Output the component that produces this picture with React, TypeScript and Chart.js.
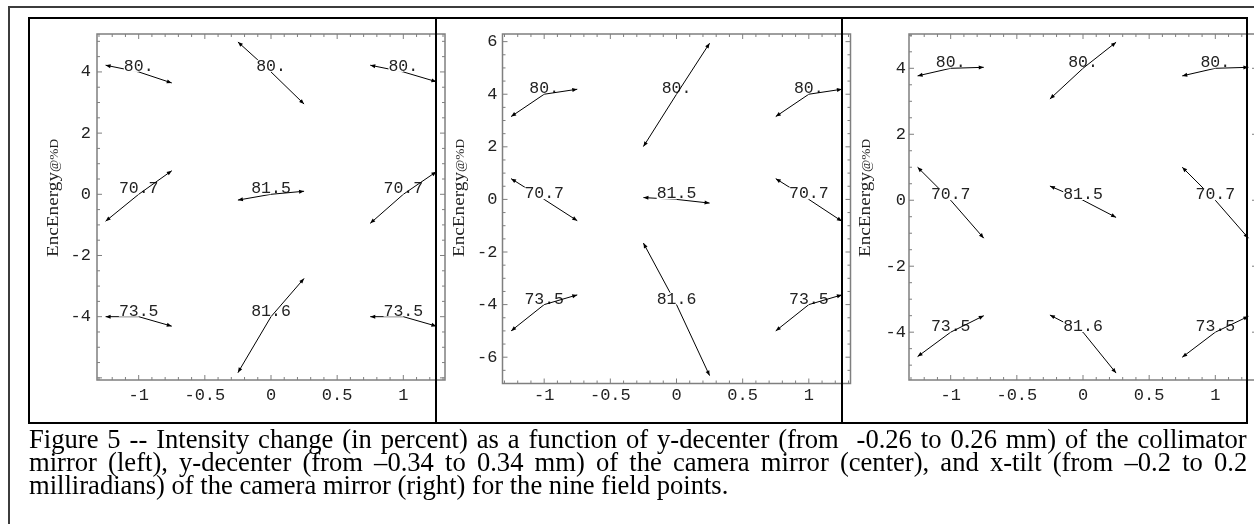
import React, { useEffect, useLayoutEffect, useRef } from 'react';
import { Chart, registerables } from 'chart.js';

Chart.register(...registerables);

// ---------------- data ----------------
// nine field points (grid position) and their labels (nominal encircled energy)
const FIELD_X = [-1, 0, 1, -1, 0, 1, -1, 0, 1];
const FIELD_Y = [4, 4, 4, 0, 0, 0, -4, -4, -4];
const FIELD_LABELS = ['80.', '80.', '80.', '70.7', '81.5', '70.7', '73.5', '81.6', '73.5'];
const ARROW_HALF_SPAN = 0.25;

// arrow end values (left end = negative perturbation, right end = positive perturbation)
const LEFT_END_COLLIMATOR_YDEC = [4.22, 4.98, 4.22, -0.88, -0.19, -0.95, -4.0, -5.83, -4.0];
const RIGHT_END_COLLIMATOR_YDEC = [3.64, 2.95, 3.68, 0.77, 0.1, 0.74, -4.31, -2.75, -4.31];
const LEFT_END_CAMERA_YDEC = [3.15, 2.01, 3.15, 0.79, 0.07, 0.79, -5.0, -1.66, -5.0];
const RIGHT_END_CAMERA_YDEC = [4.19, 5.94, 4.19, -0.81, -0.14, -0.83, -3.63, -6.7, -3.63];
const LEFT_END_CAMERA_XTILT = [3.77, 3.07, 3.77, 1.0, 0.43, 1.0, -4.74, -3.48, -4.76];
const RIGHT_END_CAMERA_XTILT = [4.03, 4.79, 4.03, -1.15, -0.52, -1.15, -3.5, -5.24, -3.52];

const X_RANGE = [-1.315, 1.315];
const X_TICKS = [-1, -0.5, 0, 0.5, 1];
const X_TICK_LABELS = ['-1', '-0.5', '0', '0.5', '1'];

const Y_RANGE_1 = [-6.07, 5.24];
const Y_RANGE_2 = [-7.0, 6.29];
const Y_RANGE_3 = [-5.45, 5.04];
const Y_TICKS_1 = [-4, -2, 0, 2, 4];
const Y_TICK_LABELS_1 = ['-4', '-2', '0', '2', '4'];
const Y_TICKS_2 = [-6, -4, -2, 0, 2, 4, 6];
const Y_TICK_LABELS_2 = ['-6', '-4', '-2', '0', '2', '4', '6'];
const Y_TICKS_3 = [-4, -2, 0, 2, 4];
const Y_TICK_LABELS_3 = ['-4', '-2', '0', '2', '4'];

const Y_TITLE_MAIN = 'EncEnergy';
const Y_TITLE_SUFFIX = '@%D';

const CAPTION_LINES = [
  'Figure 5 -- Intensity change (in percent) as a function of y-decenter (from\u00a0 -0.26 to 0.26 mm) of the collimator',
  'mirror (left), y-decenter (from \u20130.34 to 0.34 mm) of the camera mirror (center), and x-tilt (from \u20130.2 to 0.2',
  'milliradians) of the camera mirror (right) for the nine field points.',
];

// ---------------- panels ----------------
type PanelData = {
  leftEnd: number[];
  rightEnd: number[];
  yRange: number[];
  yTicks: number[];
  yTickLabels: string[];
};

const PANELS_DATA: PanelData[] = [
  { leftEnd: LEFT_END_COLLIMATOR_YDEC, rightEnd: RIGHT_END_COLLIMATOR_YDEC, yRange: Y_RANGE_1, yTicks: Y_TICKS_1, yTickLabels: Y_TICK_LABELS_1 },
  { leftEnd: LEFT_END_CAMERA_YDEC, rightEnd: RIGHT_END_CAMERA_YDEC, yRange: Y_RANGE_2, yTicks: Y_TICKS_2, yTickLabels: Y_TICK_LABELS_2 },
  { leftEnd: LEFT_END_CAMERA_XTILT, rightEnd: RIGHT_END_CAMERA_XTILT, yRange: Y_RANGE_3, yTicks: Y_TICKS_3, yTickLabels: Y_TICK_LABELS_3 },
];

type PanelLayout = { left: number; right: number; top: number; bottom: number; xTickPad: number; yTickPad: number };

const PANEL_LAYOUT: PanelLayout[] = [
  { left: 97, right: 445, top: 34, bottom: 380, xTickPad: 5, yTickPad: 6 },
  { left: 502.5, right: 850.5, top: 34, bottom: 383.5, xTickPad: 1.5, yTickPad: 5 },
  { left: 909, right: 1257, top: 34, bottom: 380, xTickPad: 5, yTickPad: 3 },
];

const CANVAS_H = 430;
const MONO = '"Liberation Mono", "Courier New", monospace';
const SERIF = '"Liberation Serif", "Times New Roman", serif';
const TEXT_COLOR = '#222222';
const FRAME_COLOR = '#7f7f7f';
const TICK_FONT_SIZE = 17;
const LABEL_FONT_SIZE = 16.5;
const CAPTION_WIDTH = 1218;

function steps(min: number, max: number, step: number): number[] {
  const out: number[] = [];
  for (let k = Math.ceil(min / step - 1e-9); k <= Math.floor(max / step + 1e-9); k++) out.push(+(k * step).toFixed(6));
  return out;
}
function isMultiple(v: number, step: number) {
  const r = v / step;
  return Math.abs(r - Math.round(r)) < 1e-6;
}

function drawArrowHead(ctx: CanvasRenderingContext2D, fx: number, fy: number, tx: number, ty: number) {
  const dx = tx - fx;
  const dy = ty - fy;
  const len = Math.hypot(dx, dy);
  if (len < 1e-6) return;
  const ux = dx / len;
  const uy = dy / len;
  const L = 5;
  const W = 2;
  ctx.beginPath();
  ctx.moveTo(tx, ty);
  ctx.lineTo(tx - ux * L - uy * W, ty - uy * L + ux * W);
  ctx.lineTo(tx - ux * L + uy * W, ty - uy * L - ux * W);
  ctx.closePath();
  ctx.fill();
}

function PanelChart({ data, layout }: { data: PanelData; layout: PanelLayout }) {
  const ref = useRef<HTMLCanvasElement>(null);
  const canvasLeft = Math.floor(layout.left - 80);
  const canvasWidth = Math.ceil(layout.right + 16 - canvasLeft);

  useEffect(() => {
    const canvas = ref.current;
    if (!canvas) return;
    const yAxisWidth = layout.left - canvasLeft;

    const leftSeg: { x: number; y: number }[] = [];
    const rightSeg: { x: number; y: number }[] = [];
    FIELD_X.forEach((fx, i) => {
      leftSeg.push({ x: fx, y: FIELD_Y[i] }, { x: fx - ARROW_HALF_SPAN, y: data.leftEnd[i] }, { x: fx, y: NaN });
      rightSeg.push({ x: fx, y: FIELD_Y[i] }, { x: fx + ARROW_HALF_SPAN, y: data.rightEnd[i] }, { x: fx, y: NaN });
    });

    const plugin = {
      id: 'mmaFrame',
      beforeDatasetsDraw(chart: any) {
        const { ctx, chartArea: a, scales } = chart;
        const xs = scales.x;
        const ys = scales.y;
        ctx.save();
        ctx.strokeStyle = FRAME_COLOR;
        ctx.lineWidth = 1;
        ctx.beginPath();
        for (const v of steps(xs.min, xs.max, 0.1)) {
          const len = isMultiple(v, 0.5) ? 5 : 3;
          const px = xs.getPixelForValue(v);
          ctx.moveTo(px, a.bottom);
          ctx.lineTo(px, a.bottom - len);
          ctx.moveTo(px, a.top);
          ctx.lineTo(px, a.top + len);
        }
        for (const v of steps(ys.min, ys.max, 0.5)) {
          const len = isMultiple(v, 2) ? 5 : 3;
          const py = ys.getPixelForValue(v);
          ctx.moveTo(a.left, py);
          ctx.lineTo(a.left + len, py);
          ctx.moveTo(a.right, py);
          ctx.lineTo(a.right - len, py);
        }
        ctx.stroke();
        ctx.lineWidth = 1.5;
        ctx.strokeRect(a.left, a.top, a.right - a.left, a.bottom - a.top);
        ctx.restore();
      },
      afterDatasetDraw(chart: any, args: any) {
        const { ctx, scales } = chart;
        const xs = scales.x;
        const ys = scales.y;
        ctx.save();
        ctx.fillStyle = '#000';
        const isLeft = args.index === 1;
        FIELD_X.forEach((fx, i) => {
          const cx = xs.getPixelForValue(fx);
          const cy = ys.getPixelForValue(FIELD_Y[i]);
          const ex = xs.getPixelForValue(isLeft ? fx - ARROW_HALF_SPAN : fx + ARROW_HALF_SPAN);
          const ey = ys.getPixelForValue(isLeft ? data.leftEnd[i] : data.rightEnd[i]);
          drawArrowHead(ctx, cx, cy, ex, ey);
        });
        if (isLeft) {
          ctx.font = `${LABEL_FONT_SIZE}px ${MONO}`;
          ctx.textAlign = 'center';
          ctx.textBaseline = 'alphabetic';
          FIELD_X.forEach((fx, i) => {
            const px = xs.getPixelForValue(fx);
            const base = ys.getPixelForValue(FIELD_Y[i]) - 1;
            const w = ctx.measureText(FIELD_LABELS[i]).width;
            ctx.fillStyle = '#fff';
            ctx.fillRect(px - w / 2, base - 11, w, 12);
            ctx.fillStyle = TEXT_COLOR;
            ctx.fillText(FIELD_LABELS[i], px, base);
          });
        }
        ctx.restore();
      },
      afterDraw(chart: any) {
        const { ctx, chartArea: a } = chart;
        ctx.save();
        ctx.fillStyle = TEXT_COLOR;
        ctx.translate(a.left - 39, 257);
        ctx.rotate(-Math.PI / 2);
        ctx.textAlign = 'left';
        ctx.textBaseline = 'alphabetic';
        ctx.font = `16.5px ${SERIF}`;
        const w1 = ctx.measureText(Y_TITLE_MAIN).width;
        ctx.save();
        ctx.scale(85 / w1, 1);
        ctx.fillText(Y_TITLE_MAIN, 0, 0);
        ctx.restore();
        ctx.translate(85, 0);
        ctx.font = `13.5px ${SERIF}`;
        const w2 = ctx.measureText(Y_TITLE_SUFFIX).width;
        ctx.scale(33 / w2, 1);
        ctx.fillText(Y_TITLE_SUFFIX, 0, 0);
        ctx.restore();
      },
    };

    const lineStyle = {
      showLine: true,
      borderColor: '#000',
      borderWidth: 1,
      pointRadius: 0,
      pointHoverRadius: 0,
      spanGaps: false,
      tension: 0,
    };

    const chart = new Chart(canvas, {
      type: 'scatter',
      data: {
        datasets: [
          { label: 'positive', data: rightSeg, ...lineStyle } as any,
          { label: 'negative', data: leftSeg, ...lineStyle } as any,
        ],
      },
      options: {
        responsive: false,
        animation: false,
        devicePixelRatio: 1,
        events: [],
        layout: {
          padding: {
            left: 0,
            right: canvasWidth - (layout.right - canvasLeft),
            top: layout.top,
            bottom: CANVAS_H - layout.bottom - 30,
          },
        },
        plugins: { legend: { display: false }, tooltip: { enabled: false }, title: { display: false } },
        scales: {
          x: {
            type: 'linear',
            position: 'bottom',
            min: X_RANGE[0],
            max: X_RANGE[1],
            grid: { display: false, drawTicks: false },
            border: { display: false },
            ticks: {
              font: { family: MONO, size: TICK_FONT_SIZE },
              color: TEXT_COLOR,
              padding: layout.xTickPad,
              maxRotation: 0,
              minRotation: 0,
              autoSkip: false,
              callback: (_v: any, i: number) => X_TICK_LABELS[i],
            },
            afterBuildTicks: (s: any) => {
              s.ticks = X_TICKS.map((v) => ({ value: v }));
            },
            afterFit: (s: any) => {
              s.height = 30;
            },
          },
          y: {
            type: 'linear',
            position: 'left',
            min: data.yRange[0],
            max: data.yRange[1],
            grid: { display: false, drawTicks: false },
            border: { display: false },
            ticks: {
              font: { family: MONO, size: TICK_FONT_SIZE },
              color: TEXT_COLOR,
              padding: layout.yTickPad,
              autoSkip: false,
              callback: (_v: any, i: number) => data.yTickLabels[i],
            },
            afterBuildTicks: (s: any) => {
              s.ticks = data.yTicks.map((v) => ({ value: v }));
            },
            afterFit: (s: any) => {
              s.width = yAxisWidth;
            },
          },
        },
      } as any,
      plugins: [plugin as any],
    });
    return () => chart.destroy();
  }, []);

  return (
    <canvas
      ref={ref}
      width={canvasWidth}
      height={CANVAS_H}
      style={{ position: 'absolute', left: canvasLeft, top: 0, width: canvasWidth, height: CANVAS_H }}
    />
  );
}

function Caption() {
  const refs = useRef<(HTMLDivElement | null)[]>([]);
  useLayoutEffect(() => {
    const adjust = () => {
      refs.current.forEach((el, i) => {
        if (!el || i === CAPTION_LINES.length - 1) return;
        el.style.wordSpacing = '0px';
        const w = el.offsetWidth;
        const spaces = (CAPTION_LINES[i].match(/[ \u00a0]/g) || []).length;
        el.style.wordSpacing = `${(CAPTION_WIDTH - w) / spaces}px`;
      });
    };
    adjust();
    if ((document as any).fonts && (document as any).fonts.ready) (document as any).fonts.ready.then(adjust);
  }, []);
  return (
    <div
      style={{
        position: 'absolute',
        left: 29,
        top: 427.5,
        fontFamily: SERIF,
        fontSize: 26.6,
        lineHeight: '23px',
        whiteSpace: 'nowrap',
        color: '#000',
      }}
    >
      {CAPTION_LINES.map((t, i) => (
        <div key={i} ref={(el) => { refs.current[i] = el; }} style={{ width: 'max-content' }}>
          {t}
        </div>
      ))}
    </div>
  );
}

export default function App() {
  return (
    <div style={{ position: 'absolute', left: 0, top: 0, width: 1254, height: 524, overflow: 'hidden', background: '#fff' }}>
      <div style={{ position: 'absolute', left: 8, top: 6, width: 1400, height: 700, border: '2px solid #3c3c3c' }} />
      {PANELS_DATA.map((d, i) => (
        <PanelChart key={i} data={d} layout={PANEL_LAYOUT[i]} />
      ))}
      <div style={{ position: 'absolute', left: 28, top: 17, width: 1220, height: 407, border: '2px solid #000', boxSizing: 'border-box' }} />
      <div style={{ position: 'absolute', left: 435, top: 17, width: 2, height: 407, background: '#000' }} />
      <div style={{ position: 'absolute', left: 841, top: 17, width: 2, height: 407, background: '#000' }} />
      <Caption />
    </div>
  );
}
